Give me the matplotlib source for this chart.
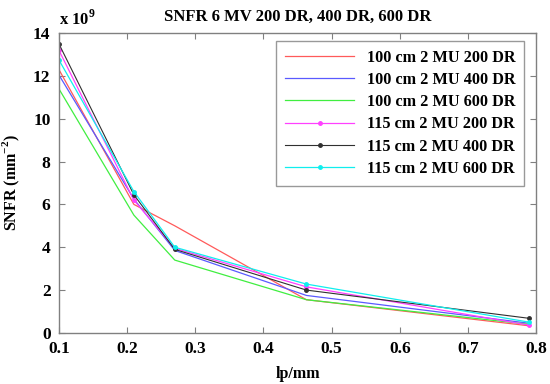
import matplotlib
matplotlib.use("Agg")
import matplotlib.pyplot as plt

plt.rcParams['font.family'] = 'Liberation Serif'
plt.rcParams['font.weight'] = 'bold'
plt.rcParams['mathtext.fontset'] = 'custom'
plt.rcParams['mathtext.rm'] = 'Liberation Serif:bold'
plt.rcParams['mathtext.bf'] = 'Liberation Serif:bold'

# spatial frequency, lp/mm
lp = [0.1, 0.21, 0.27, 0.463, 0.79]

# SNFR values, x 10^9 mm^-2
snfr_100_200 = [12.3, 6.0, 5.0, 1.55, 0.33]
snfr_100_400 = [12.05, 6.25, 3.85, 1.75, 0.45]
snfr_100_600 = [11.4, 5.5, 3.4, 1.55, 0.4]
snfr_115_200 = [13.2, 6.2, 3.95, 2.15, 0.36]
snfr_115_400 = [13.5, 6.45, 3.9, 2.0, 0.68]
snfr_115_600 = [12.75, 6.6, 4.0, 2.28, 0.5]

labels = ['100 cm 2 MU 200 DR', '100 cm 2 MU 400 DR', '100 cm 2 MU 600 DR',
          '115 cm 2 MU 200 DR', '115 cm 2 MU 400 DR', '115 cm 2 MU 600 DR']

fig = plt.figure(figsize=(5.5, 3.84), dpi=100)
ax = fig.add_axes([0.107, 0.133, 0.868, 0.781])

ax.plot(lp, snfr_100_200, color='#ff5a5a', lw=0.9, label=labels[0])
ax.plot(lp, snfr_100_400, color='#5a5aff', lw=0.9, label=labels[1])
ax.plot(lp, snfr_100_600, color='#40ee40', lw=0.9, label=labels[2])
ax.plot(lp, snfr_115_200, color='#ff40ff', lw=0.9, marker='.', ms=5, label=labels[3])
ax.plot(lp, snfr_115_400, color='#303030', lw=0.8, marker='.', ms=5, label=labels[4])
ax.plot(lp, snfr_115_600, color='#10eeee', lw=0.9, marker='.', ms=5, label=labels[5])

ax.set_xlim(0.1, 0.8)
ax.set_ylim(0, 14)
ax.set_xticks([0.1, 0.2, 0.3, 0.4, 0.5, 0.6, 0.7, 0.8])
ax.set_yticks([0, 2, 4, 6, 8, 10, 12, 14])
ax.tick_params(direction='in', top=True, right=True, labelsize=12.5,
               color='#808080', length=4, pad=6)
for s in ax.spines.values():
    s.set_color('#808080')
    s.set_linewidth(1.0)

ax.set_title('SNFR 6 MV 200 DR, 400 DR, 600 DR', fontsize=12, fontweight='bold', pad=9)
ax.set_xlabel('lp/mm', fontsize=11.5, fontweight='bold', labelpad=6)
ax.set_ylabel('SNFR (mm$^{-2}$)', fontsize=11.5, fontweight='bold', labelpad=8)
fig.text(0.107, 0.935, 'x 10$^{9}$', fontsize=12, fontweight='bold')

leg = ax.legend(loc='upper right', fontsize=11.7, fancybox=False, edgecolor='#808080',
                handlelength=4.2, borderpad=0.55, labelspacing=0.38, numpoints=1,
                borderaxespad=0.3, bbox_to_anchor=(0.985, 0.99))
leg.get_frame().set_linewidth(1.0)

plt.savefig("out.png", dpi=100)
